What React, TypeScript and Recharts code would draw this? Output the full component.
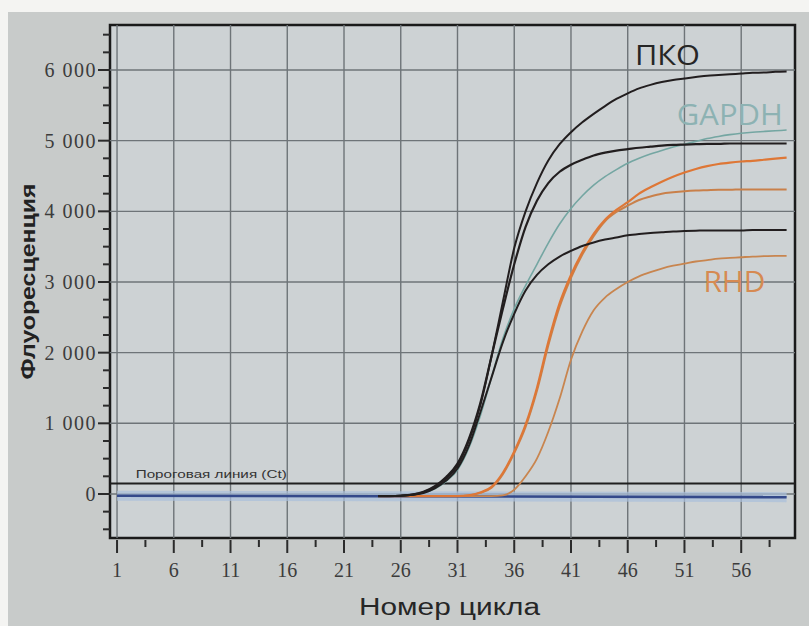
// qPCR amplification curves: ПКО / GAPDH / RHD

import {
  LineChart, Line, XAxis, YAxis, CartesianGrid, ReferenceLine, ReferenceArea, ReferenceDot,
} from 'recharts';

const CYCLES = [
  24, 25, 26, 27, 28, 29, 30, 31, 32, 33, 34, 35, 36, 37, 38, 39, 40, 41, 42,
  43, 44, 45, 46, 47, 48, 49, 50, 51, 52, 53, 54, 55, 56, 57, 58, 59, 60,
];

// ПКО (black) curves
const PKO_1 = [
  -30, -30, -25, -10, 25, 100, 220, 400, 750, 1250, 1950, 2720, 3480, 4000, 4400, 4720, 4950, 5120, 5260,
  5380, 5490, 5590, 5670, 5740, 5790, 5830, 5860, 5880, 5900, 5920, 5930, 5940, 5950, 5960, 5965, 5975, 5980,
];
const PKO_2 = [
  -30, -30, -25, -10, 30, 110, 240, 430, 780, 1280, 1950, 2620, 3250, 3780, 4150, 4400, 4560, 4660, 4730,
  4790, 4830, 4860, 4880, 4900, 4915, 4930, 4940, 4945, 4950, 4955, 4955, 4960, 4960, 4960, 4960, 4960, 4960,
];
const PKO_3 = [
  -30, -30, -25, -10, 15, 80, 190, 360, 680, 1150, 1650, 2150, 2550, 2880, 3100, 3250, 3360, 3440, 3510,
  3560, 3600, 3630, 3660, 3680, 3695, 3705, 3715, 3720, 3725, 3730, 3730, 3730, 3730, 3735, 3735, 3735, 3735,
];

const GAPDH = [
  -30, -30, -25, -12, 15, 75, 180, 340, 650, 1100, 1650, 2200, 2620, 2950, 3250, 3550, 3820, 4040, 4220,
  4370, 4490, 4590, 4680, 4750, 4810, 4860, 4910, 4950, 4990, 5030, 5060, 5085, 5105, 5120, 5130, 5140, 5150,
];

// RHD (orange) curves
const RHD_1 = [
  -30, -30, -30, -30, -30, -30, -30, -30, -20, 20, 100, 300, 600, 980, 1500, 2150, 2700, 3100, 3420,
  3680, 3880, 4020, 4130, 4250, 4340, 4420, 4490, 4550, 4600, 4640, 4670, 4690, 4705, 4715, 4730, 4745, 4760,
];
const RHD_2 = [
  -30, -30, -30, -30, -30, -30, -30, -30, -20, 15, 90, 280, 580, 950, 1460, 2100, 2650, 3060, 3390,
  3650, 3860, 3990, 4080, 4160, 4210, 4250, 4270, 4285, 4295, 4300, 4305, 4305, 4310, 4310, 4310, 4310, 4310,
];
const RHD_3 = [
  -30, -30, -30, -30, -30, -30, -30, -30, -30, -30, -30, -20, 60, 250, 500, 880, 1350, 1900, 2300,
  2600, 2780, 2900, 3000, 3080, 3140, 3190, 3230, 3260, 3290, 3310, 3330, 3340, 3350, 3360, 3365, 3370, 3370,
];

const BASE_CYCLES = [1, 60];
const BASE_VALUES = [-25, -45];
const THRESHOLD = 150;

const X_TICKS = [
  1, 3.5, 6, 8.5, 11, 13.5, 16, 18.5, 21, 23.5, 26, 28.5, 31, 33.5, 36, 38.5, 41, 43.5, 46, 48.5, 51, 53.5, 56, 58.5,
];
const Y_TICKS = [
  -500, -250, 0, 250, 500, 750, 1000, 1250, 1500, 1750, 2000, 2250, 2500, 2750, 3000, 3250, 3500, 3750,
  4000, 4250, 4500, 4750, 5000, 5250, 5500, 5750, 6000, 6250, 6500,
];
const GRID_X = [1, 6, 11, 16, 21, 26, 31, 36, 41, 46, 51, 56];
const GRID_Y = [0, 1000, 2000, 3000, 4000, 5000, 6000];

const rows = CYCLES.map((c, i) => ({
  cycle: c, pko1: PKO_1[i], pko2: PKO_2[i], pko3: PKO_3[i], gapdh: GAPDH[i],
  rhd1: RHD_1[i], rhd2: RHD_2[i], rhd3: RHD_3[i],
}));
const baseRows = BASE_CYCLES.map((c, i) => ({ cycle: c, base: BASE_VALUES[i] }));

const tickFont = { fontFamily: '"Liberation Serif", "DejaVu Serif", serif', fill: '#3c3c3c' };

function YTick({ x, y, payload }: any) {
  const v = payload.value;
  const major = v % 1000 === 0;
  const txt = v === 0 ? '0' : `${v / 1000} 000`;
  return (
    <g>
      <line x1={x - (major ? 12 : 7)} x2={x} y1={y} y2={y} stroke="#2b2b2b" strokeWidth={2} />
      {major && v >= 0 && (
        <text x={x - 13} y={y} dy="0.35em" textAnchor="end" fontSize={20} letterSpacing={1.5} style={tickFont}>
          {txt}
        </text>
      )}
    </g>
  );
}

function XTick({ x, y, payload }: any) {
  const v = payload.value;
  const major = (v - 1) % 5 === 0;
  return (
    <g>
      <line x1={x} x2={x} y1={y + 2} y2={y + (major ? 15 : 9)} stroke="#2b2b2b" strokeWidth={2} />
      {major && (
        <text x={x} y={y + 39} textAnchor="middle" fontSize={20} style={tickFont}>{v}</text>
      )}
    </g>
  );
}

// text label centred on a ReferenceDot
const dotLabel = (text: string, size: number, width: number, color: string, family: string) =>
  (p: any) => {
    const vb = p.viewBox;
    const cx = vb.x + vb.width / 2;
    const cy = vb.y + vb.height / 2;
    return (
      <text x={cx} y={cy} dy="0.35em" textAnchor="middle" fontSize={size} fill={color}
        fontFamily={family} textLength={width} lengthAdjust="spacingAndGlyphs">
        {text}
      </text>
    );
  };

const SANS = '"Liberation Sans", Arial, sans-serif';
const CAL = '"Open Sans", "Liberation Sans", sans-serif';

export default function App() {
  return (
    <div style={{ position: 'relative', width: 809, height: 626, background: '#f4f4f2', overflow: 'hidden' }}>
      <style>{'body{margin:0}'}</style>
      <div style={{ position: 'absolute', left: 8, top: 12, width: 801, height: 614, background: '#c8cbca' }}>
        <LineChart width={801} height={614} data={rows} margin={{ top: 13, right: 14, bottom: 48, left: 0 }}>
          <CartesianGrid horizontal={false} vertical={false} fill="#cdd2d4" />
          <XAxis type="number" dataKey="cycle" domain={[0.38, 60.74]} ticks={X_TICKS} interval={0}
            allowDataOverflow height={40} axisLine={false} tickLine={false} tickSize={0} tickMargin={0}
            tick={<XTick />}
            label={(p: any) => {
              const vb = p.viewBox;
              return (
                <text x={vb.x + vb.width / 2 - 3} y={vb.y + 77} textAnchor="middle" fontSize={23}
                  fill="#262626" fontFamily={SANS} textLength={181} lengthAdjust="spacingAndGlyphs">
                  Номер цикла
                </text>
              );
            }} />
          <YAxis type="number" domain={[-623, 6637]} ticks={Y_TICKS} interval={0} allowDataOverflow
            width={102} axisLine={false} tickLine={false} tickSize={0} tickMargin={0}
            tick={<YTick />}
            label={(p: any) => {
              const vb = p.viewBox;
              const cx = vb.x + 20;
              const cy = vb.y + vb.height / 2;
              return (
                <text x={cx} y={cy} dy="0.35em" textAnchor="middle" fontSize={21} fill="#222"
                  fontWeight="bold" fontFamily={SANS} transform={`rotate(-90 ${cx} ${cy})`}
                  textLength={196} lengthAdjust="spacingAndGlyphs">
                  Флуоресценция
                </text>
              );
            }} />

          {GRID_X.map((g) => (
            <ReferenceLine key={`gx${g}`} x={g} stroke="#6e7478" strokeWidth={1.4} />
          ))}
          {GRID_Y.map((g) => (
            <ReferenceLine key={`gy${g}`} y={g} stroke="#6e7478" strokeWidth={1.4} />
          ))}

          <Line data={baseRows} dataKey="base" stroke="#a9bfdc" strokeOpacity={0.7} strokeWidth={10}
            dot={false} isAnimationActive={false} />
          <Line data={baseRows} dataKey="base" stroke="#34498a" strokeWidth={2.6}
            dot={false} isAnimationActive={false} />
          <ReferenceLine y={THRESHOLD} stroke="#1f1f1f" strokeWidth={2} />
          <ReferenceDot x={9.3} y={270} r={1} fill="none" stroke="none"
            label={dotLabel('Пороговая линия (Ct)', 10, 151, '#333', SANS)} />

          <Line type="monotone" dataKey="rhd3" stroke="#c8854f" strokeWidth={1.8} dot={false} isAnimationActive={false} />
          <Line type="monotone" dataKey="rhd2" stroke="#c9804a" strokeWidth={2} dot={false} isAnimationActive={false} />
          <Line type="monotone" dataKey="rhd1" stroke="#de7736" strokeWidth={2.2} dot={false} isAnimationActive={false} />
          <Line type="monotone" dataKey="gapdh" stroke="#74a6a2" strokeWidth={1.6} dot={false} isAnimationActive={false} />
          <Line type="monotone" dataKey="pko3" stroke="#221e1f" strokeWidth={2} dot={false} isAnimationActive={false} />
          <Line type="monotone" dataKey="pko2" stroke="#221e1f" strokeWidth={2.2} dot={false} isAnimationActive={false} />
          <Line type="monotone" dataKey="pko1" stroke="#221e1f" strokeWidth={2} dot={false} isAnimationActive={false} />

          <ReferenceDot x={49.5} y={6210} r={1} fill="none" stroke="none"
            label={dotLabel('ПКО', 28, 65, '#262626', CAL)} />
          <ReferenceDot x={55} y={5375} r={1} fill="none" stroke="none"
            label={dotLabel('GAPDH', 30, 106, '#8db2b3', CAL)} />
          <ReferenceDot x={55.4} y={3010} r={1} fill="none" stroke="none"
            label={dotLabel('RHD', 30, 62, '#d68a52', CAL)} />

          <ReferenceArea x1={0.38} x2={60.74} y1={-623} y2={6637} fill="none" stroke="#1a1a1a" strokeWidth={2.5} />
        </LineChart>
      </div>
    </div>
  );
}
